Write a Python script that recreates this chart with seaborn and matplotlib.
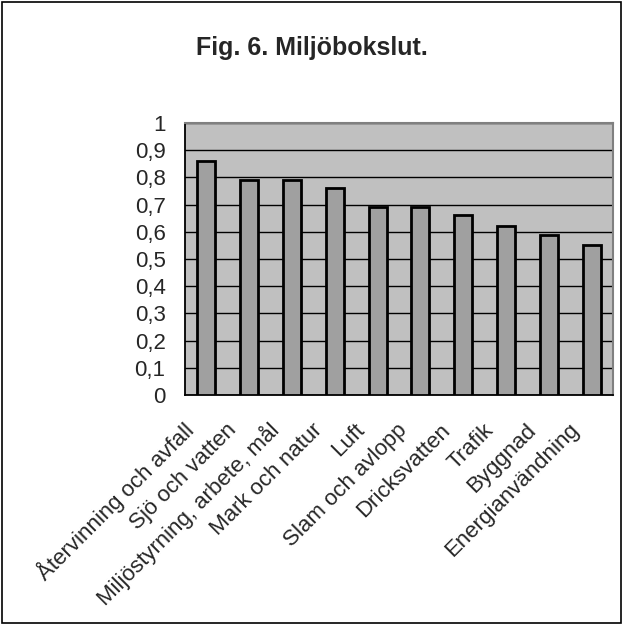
import matplotlib
matplotlib.use("Agg")
import matplotlib.pyplot as plt
import matplotlib.transforms as mtransforms
from matplotlib.patches import Rectangle
from matplotlib.ticker import FixedLocator, FuncFormatter
import numpy as np
import pandas as pd
import seaborn as sns

# Environmental accounts per area
categories = [
    "Återvinning och avfall",
    "Sjö och vatten",
    "Miljöstyrning, arbete, mål",
    "Mark och natur",
    "Luft",
    "Slam och avlopp",
    "Dricksvatten",
    "Trafik",
    "Byggnad",
    "Energianvändning",
]
values = [0.86, 0.79, 0.79, 0.76, 0.69, 0.69, 0.66, 0.62, 0.59, 0.55]
y_ticks = [0.0, 0.1, 0.2, 0.3, 0.4, 0.5, 0.6, 0.7, 0.8, 0.9, 1.0]
title = "Fig. 6. Miljöbokslut."

df = pd.DataFrame({"omrade": categories, "varde": values})

sns.set_style("white")
plt.rcParams["font.family"] = ["Liberation Sans", "DejaVu Sans"]

fig = plt.figure(figsize=(6.23, 6.25), dpi=100)
fig.patch.set_facecolor("white")
ax = fig.add_axes([185 / 623, 1 - 395 / 625, (613 - 185) / 623, (395 - 123) / 625])
ax.set_facecolor("#C0C0C0")

sns.barplot(data=df, x="omrade", y="varde", ax=ax, color="#A0A0A0",
            saturation=1, width=0.42, edgecolor="black", linewidth=2.0,
            zorder=3)

ax.set_ylim(0, 1)
ax.set_xlim(-0.5, len(categories) - 0.5)
ax.yaxis.set_major_locator(FixedLocator(y_ticks))
ax.yaxis.set_major_formatter(FuncFormatter(
    lambda v, p: ("%g" % round(v, 1)).replace(".", ",")))
ax.grid(axis="y", color="black", linewidth=1.0, zorder=1)
ax.set_axisbelow(True)

# category ticks sit on the boundaries between bars
ax.set_xticks(np.arange(len(categories)))
ax.xaxis.set_minor_locator(FixedLocator(np.arange(len(categories) + 1) - 0.5))
ax.tick_params(axis="x", which="major", length=0, pad=0)
ax.tick_params(axis="x", which="minor", length=5, width=1.2, color="black",
               direction="out")
ax.tick_params(axis="y", length=5, width=1.2, color="black", direction="out",
               labelsize=16, pad=9)
ax.set_xticklabels(categories, rotation=45, ha="right", va="center",
                   rotation_mode="anchor", fontsize=16)
shift = mtransforms.ScaledTranslation(-11.5 / 72, -23 / 72, fig.dpi_scale_trans)
for lbl in ax.get_xticklabels():
    lbl.set_transform(lbl.get_transform() + shift)
ax.set_xlabel("")
ax.set_ylabel("")

for side in ("left", "bottom"):
    ax.spines[side].set_color("black")
    ax.spines[side].set_linewidth(1.3)
for side in ("top", "right"):
    ax.spines[side].set_visible(True)
    ax.spines[side].set_color("#808080")
    ax.spines[side].set_linewidth(1.5)

fig.text(312 / 623, 1 - 48 / 625, title, ha="center", va="center",
         fontsize=18, fontweight="bold")

fig.add_artist(Rectangle((0.003, 0.003), 0.994, 0.994,
                         transform=fig.transFigure, fill=False,
                         edgecolor="black", linewidth=1.2))

fig.savefig("out.png", dpi=100, facecolor="white")
